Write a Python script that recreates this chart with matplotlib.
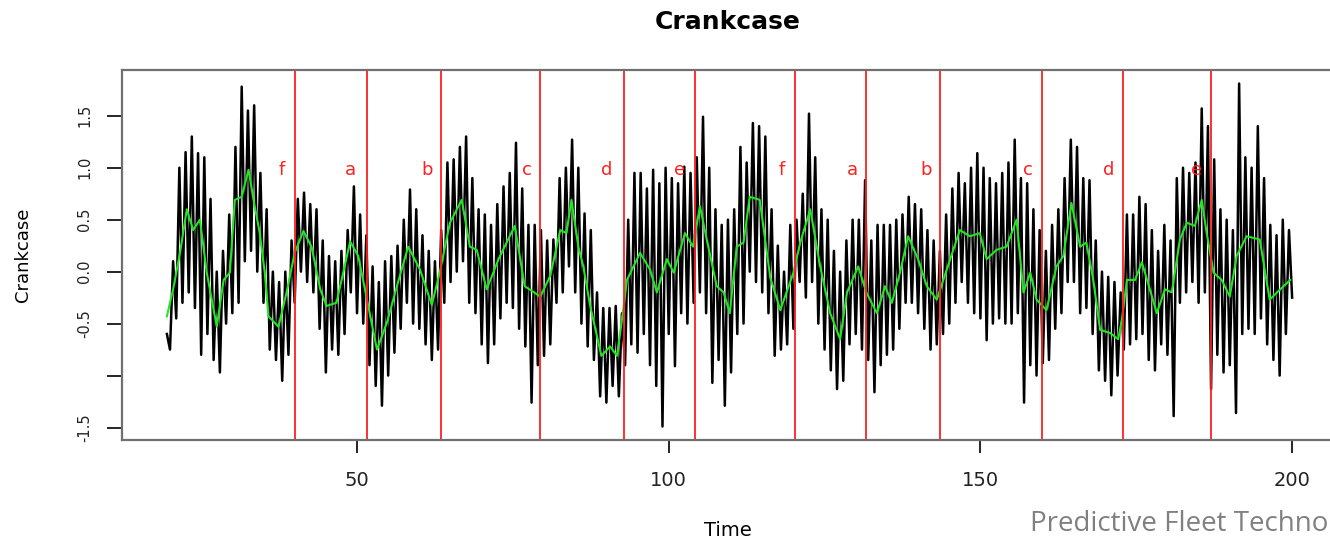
import numpy as np
import matplotlib.pyplot as plt

# crankcase readings, every half time unit from 19.5 to 200
crankcase = [
    -0.60,
    -0.75, 0.10, -0.45, 1.00, -0.30, 1.15, -0.20, 1.30, -0.35, 1.14,
    -0.80, 1.10, -0.60, 0.70, -0.85, 0.00, -0.97, 0.20, -0.50, 0.55,
    -0.40, 1.20, -0.30, 1.78, 0.10, 1.55, 0.20, 1.60, 0.00, 0.95,
    -0.30, 0.60, -0.75, 0.00, -0.85, -0.10, -1.05, 0.00, -0.80, 0.30,
    -0.30, 0.70, 0.00, 0.76, -0.10, 0.65, -0.20, 0.60, -0.55, 0.30,
    -0.97, 0.15, -0.75, 0.10, -0.80, 0.20, -0.60, 0.40, -0.20, 0.82,
    -0.40, 0.55, -0.50, 0.35, -0.90, 0.05, -1.10, -0.10, -1.29, 0.10,
    -1.00, 0.15, -0.78, 0.25, -0.55, 0.50, -0.30, 0.79, -0.50, 0.60,
    -0.55, 0.35, -0.70, 0.20, -0.85, 0.10, -0.75, 0.40, -0.30, 1.05,
    -0.10, 1.08, 0.00, 1.20, 0.10, 1.30, -0.30, 0.90, -0.40, 0.60,
    -0.70, 0.55, -0.88, 0.45, -0.70, 0.65, -0.45, 0.82, -0.30, 0.95,
    -0.35, 1.24, -0.55, 0.80, -0.72, 0.45, -1.26, 0.45, -0.90, 0.40,
    -0.81, 0.30, -0.70, 0.31, -0.30, 0.90, -0.20, 1.00, 0.05, 1.27,
    -0.20, 1.00, -0.50, 0.56, -0.72, 0.40, -0.85, -0.20, -1.20, -0.35,
    -1.26, -0.35, -1.10, -0.33, -1.20, -0.40, -0.90, 0.50, -0.70, 0.95,
    -0.78, 0.95, -0.60, 0.80, -0.90, 0.98, -1.10, 0.85, -1.49, 1.00,
    -0.60, 0.90, -0.91, 0.85, -0.40, 1.01, -0.50, 0.95, -0.30, 1.10,
    -0.20, 1.49, -0.40, 1.00, -1.07, 0.60, -0.85, 0.45, -1.29, 0.50,
    -0.97, 0.60, -0.60, 1.20, -0.50, 1.05, 0.00, 1.43, -0.10, 1.40,
    -0.20, 1.30, -0.40, 0.60, -0.81, 0.25, -0.75, 0.00, -0.70, 0.45,
    -0.55, 0.50, -0.10, 0.75, -0.25, 1.52, -0.10, 1.10, -0.50, 0.60,
    -0.75, 0.50, -0.95, 0.20, -1.13, 0.00, -1.05, 0.30, -0.70, 0.50,
    -0.60, 0.50, -0.75, 0.88, -0.85, 0.30, -1.16, 0.45, -0.90, 0.45,
    -0.80, 0.45, -0.75, 0.50, -0.55, 0.55, -0.30, 0.72, -0.30, 0.65,
    -0.40, 0.60, -0.55, 0.40, -0.75, 0.30, -0.70, 0.20, -0.60, 0.55,
    -0.50, 0.80, -0.30, 0.95, -0.10, 0.85, -0.30, 1.00, -0.40, 1.14,
    -0.45, 1.00, -0.66, 0.90, -0.50, 0.85, -0.45, 0.95, -0.50, 1.05,
    -0.50, 1.27, -0.40, 0.90, -1.26, 0.85, -0.90, 0.60, -1.00, 0.40,
    -0.88, 0.20, -0.85, 0.45, -0.55, 0.60, -0.40, 0.90, -0.10, 1.27,
    -0.10, 1.20, -0.40, 0.90, -0.35, 0.88, -0.60, 0.30, -0.95, 0.00,
    -1.05, -0.05, -1.19, -0.10, -1.00, -0.20, -0.75, 0.55, -0.70, 0.55,
    -0.65, 0.72, -0.60, 0.65, -0.85, 0.40, -0.95, 0.20, -0.70, 0.45,
    -0.80, 0.30, -1.39, 0.90, -0.30, 1.00, -0.20, 0.95, -0.10, 1.05,
    -0.30, 1.57, -0.20, 1.40, -1.13, 1.08, -0.80, 0.60, -0.97, 0.50,
    -0.90, 0.40, -1.36, 1.81, -0.60, 1.10, -0.55, 1.00, -0.60, 1.40,
    -0.45, 0.90, -0.70, 0.45, -0.85, 0.35, -1.00, 0.50, -0.60, 0.40,
    -0.25,
]
time = np.arange(len(crankcase)) * 0.5 + 19.5

# smoothed curve (green), read at its turning points
smooth_t = [19.5, 20.5, 21.6, 22.7, 23.7, 24.8, 25.9, 27.5, 28.6, 29.6, 30.4, 31.5,
            32.6, 33.4, 34.4, 35.2, 35.8, 37.4, 38.7, 40.0, 41.4, 42.7, 44.1, 45.1,
            46.7, 48.9, 50.2, 51.6, 53.2, 54.8, 56.4, 58.2, 60.1, 62.0, 63.3, 64.9,
            66.8, 68.1, 69.2, 70.8, 72.7, 75.3, 76.9, 79.4, 81.0, 82.6, 83.6, 84.4,
            85.5, 86.3, 87.4, 89.2, 90.6, 91.7, 92.5, 93.3, 95.4, 97.0, 98.1, 99.7,
            100.8, 102.6, 103.9, 105.0, 106.1, 107.7, 108.8, 109.8, 110.9, 112.0, 113.0, 114.6,
            116.3, 117.9, 120.0, 121.1, 122.7, 124.3, 125.9, 127.5, 128.6, 130.4, 131.7, 133.4,
            134.7, 135.8, 137.1, 138.4, 140.0, 141.4, 143.0, 144.6, 146.7, 148.3, 149.9, 151.0,
            152.6, 154.2, 155.8, 156.9, 158.0, 159.0, 160.6, 162.2, 163.3, 164.6, 166.0, 167.0,
            168.1, 169.2, 170.8, 172.1, 172.7, 173.5, 174.8, 175.9, 178.3, 179.6, 180.7, 182.0,
            183.1, 184.4, 185.5, 186.3, 187.4, 188.7, 190.0, 191.1, 192.7, 194.8, 196.4, 198.1,
            199.7]
smooth_y = [-0.43, -0.17, 0.18, 0.60, 0.40, 0.50, -0.01, -0.53, -0.08, -0.01, 0.69, 0.72,
            0.98, 0.69, 0.37, -0.01, -0.43, -0.53, -0.20, 0.18, 0.39, 0.24, -0.17, -0.33,
            -0.30, 0.29, 0.15, -0.27, -0.75, -0.49, -0.14, 0.24, 0.02, -0.32, 0.00, 0.47,
            0.69, 0.24, 0.21, -0.17, 0.12, 0.44, -0.14, -0.24, -0.04, 0.40, 0.37, 0.69,
            0.24, 0.05, -0.33, -0.81, -0.72, -0.81, -0.46, -0.08, 0.18, 0.02, -0.20, 0.12,
            -0.01, 0.37, 0.24, 0.63, 0.31, -0.14, -0.20, -0.40, 0.24, 0.28, 0.72, 0.69,
            -0.06, -0.37, -0.01, 0.28, 0.60, 0.05, -0.40, -0.65, -0.20, 0.05, -0.20, -0.40,
            -0.14, -0.30, -0.01, 0.34, 0.12, -0.14, -0.27, 0.02, 0.40, 0.34, 0.37, 0.12,
            0.21, 0.24, 0.50, -0.20, -0.01, -0.27, -0.37, 0.05, 0.15, 0.66, 0.24, 0.28,
            -0.08, -0.56, -0.59, -0.65, -0.46, -0.08, -0.08, 0.09, -0.40, -0.17, -0.20, 0.31,
            0.47, 0.44, 0.69, 0.37, -0.01, -0.08, -0.24, 0.15, 0.34, 0.31, -0.27, -0.17,
            -0.08]

breaks = [40.05, 51.6, 63.5, 79.4, 92.8, 104.2, 120.3, 131.6, 143.5, 159.9, 172.9, 187.0]
label_x = [37.9, 49.0, 61.2, 77.3, 90.1, 101.8, 118.2, 129.4, 141.3, 157.6, 170.6, 184.6]
label_txt = ['f', 'a', 'b', 'c', 'd', 'e', 'f', 'a', 'b', 'c', 'd', 'e']

y_ticks = [-1.5, -1.0, -0.5, 0.0, 0.5, 1.0, 1.5]
y_ticklabels = ['-1.5', '', '-0.5', '0.0', '0.5', '1.0', '1.5']
x_ticks = [50, 100, 150, 200]

W, H = 1330, 541
fig = plt.figure(figsize=(W / 100, H / 100), dpi=100)
ax = fig.add_axes([122 / W, 1 - 440 / H, (1337 - 122) / W, (440 - 70) / H])

ax.plot(time, crankcase, color='black', lw=1.8)
ax.plot(smooth_t, smooth_y, color='#22e622', lw=1.5)
for b in breaks:
    ax.axvline(b, color='#ff2020', lw=1.3)
for x, t in zip(label_x, label_txt):
    ax.text(x, 0.93, t, color='#ff2020', fontsize=13, ha='center', va='baseline')

ax.set_xlim(12.3, 207.2)
ax.set_ylim(-1.62, 1.94)
ax.set_xticks(x_ticks)
ax.set_xticklabels([str(v) for v in x_ticks], fontsize=14, color='#222222')
ax.set_yticks(y_ticks)
ax.set_yticklabels(y_ticklabels, fontsize=10.5, rotation=90, va='center', color='#222222')
ax.tick_params(axis='x', length=9.5, width=1.2, pad=13)
ax.tick_params(axis='y', length=10.5, width=1.2, pad=11)
for s in ax.spines.values():
    s.set_color('#707070')
    s.set_linewidth(1.6)

fig.text(728 / W, 1 - 22 / H, 'Crankcase', fontsize=18, fontweight='bold', ha='center', va='center')
fig.text(728 / W, 1 - 531 / H, 'Time', fontsize=14, ha='center', va='center')
fig.text(23 / W, 1 - 255 / H, 'Crankcase', fontsize=13, rotation=90, ha='center', va='center')
fig.text(1030 / W, 1 - 524 / H, 'Predictive Fleet Techno', fontsize=20, color='#808080',
         family='Open Sans', ha='left', va='center')

fig.savefig('out.png', dpi=100)
